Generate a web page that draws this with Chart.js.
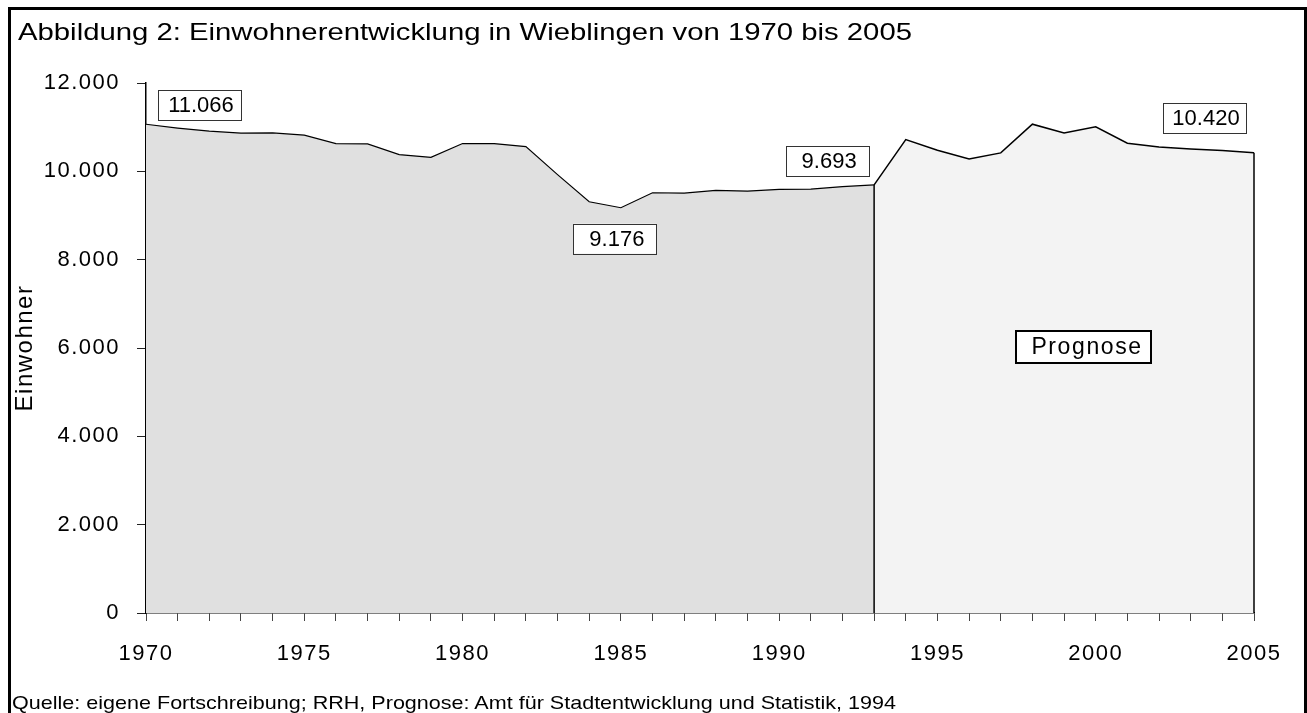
<!DOCTYPE html>
<html>
<head>
<meta charset="utf-8">
<title>Einwohnerentwicklung in Wieblingen</title>
<script src="https://cdn.jsdelivr.net/npm/chart.js@4.4.0/dist/chart.umd.min.js"></script>
<style>
    html, body { margin: 0; padding: 0; background: #fff; }
    #wrap { position: relative; width: 1307px; height: 713px; overflow: hidden; font-family: "Liberation Sans", Arial, sans-serif; color: #000; }
    #frame { position: absolute; left: 8px; top: 7px; width: 1299px; height: 760px; border: 3px solid #000; box-sizing: border-box; }
    #chart { position: absolute; left: 0; top: 0; }
    .txt { position: absolute; white-space: nowrap; line-height: 1; transform-origin: left top; }
    #title { left: 18px; top: 20px; font-size: 24px; }
    #source { left: 12px; top: 693px; font-size: 19px; }
</style>
</head>
<body>
<div id="wrap">
    <div id="frame"></div>
    <canvas id="chart" width="1307" height="713"></canvas>
    <div id="title" class="txt">Abbildung 2: Einwohnerentwicklung in Wieblingen von 1970 bis 2005</div>
    <div id="source" class="txt">Quelle: eigene Fortschreibung; RRH, Prognose: Amt für Stadtentwicklung und Statistik, 1994</div>
</div>
<script>
// Werte
const years = [1970, 1971, 1972, 1973, 1974, 1975, 1976, 1977, 1978, 1979,
               1980, 1981, 1982, 1983, 1984, 1985, 1986, 1987, 1988, 1989,
               1990, 1991, 1992, 1993, 1994, 1995, 1996, 1997, 1998, 1999,
               2000, 2001, 2002, 2003, 2004, 2005];
const einwohner = [11066, 10980, 10910, 10864, 10871, 10818, 10629, 10621, 10379, 10318,
                   10629, 10629, 10560, 9925, 9311, 9176, 9515, 9508, 9568, 9553,
                   9591, 9598, 9652, 9693, 10720, 10477, 10280, 10417, 11068, 10871,
                   11008, 10636, 10553, 10508, 10470, 10420];
const prognoseStart = 1993;
const yTicks = [0, 2000, 4000, 6000, 8000, 10000, 12000];
const xLabelYears = [1970, 1975, 1980, 1985, 1990, 1995, 2000, 2005];
const labelledYears = [1970, 1985, 1993, 2005];
const prognoseText = 'Prognose';

// Layout of the boxes (pixel offsets from the point)
const boxOffsets = [[53, -19], [-6, 31], [-47, -24], [-50, -35]];
const prognoseAt = { x: 1999.6, y: 6030 };

const FONT = '"Liberation Sans", Arial, sans-serif';

function fmt(v) {
    return String(v).replace(/\B(?=(\d{3})+(?!\d))/g, '.');
}

const points = years.map((yr, i) => ({ x: yr, y: einwohner[i] }));
const histData = points.filter(p => p.x <= prognoseStart);
const progData = points.filter(p => p.x >= prognoseStart);

// stretch HTML texts to the width they have in the original
function stretch(id, target) {
    const el = document.getElementById(id);
    const w = el.getBoundingClientRect().width;
    el.style.transform = 'scaleX(' + (target / w) + ')';
}
stretch('title', 894);
stretch('source', 884);

const spacing = {
    id: 'spacing',
    beforeDraw(chart) {
        chart.ctx.letterSpacing = '1.5px';
    }
};

const overlay = {
    id: 'overlay',
    afterDatasetsDraw(chart) {
        const ctx = chart.ctx;
        const x = chart.scales.x, y = chart.scales.y;
        ctx.save();

        // vertical edges of the areas
        ctx.strokeStyle = '#000';
        ctx.lineWidth = 1.5;
        [prognoseStart, years[years.length - 1]].forEach(yr => {
            const i = years.indexOf(yr);
            const px = x.getPixelForValue(yr);
            ctx.beginPath();
            ctx.moveTo(px, y.getPixelForValue(einwohner[i]));
            ctx.lineTo(px, y.getPixelForValue(0));
            ctx.stroke();
        });

        // value boxes
        ctx.letterSpacing = '0px';
        ctx.font = '22px ' + FONT;
        ctx.textAlign = 'center';
        ctx.textBaseline = 'middle';
        labelledYears.forEach((yr, k) => {
            const i = years.indexOf(yr);
            const cx = x.getPixelForValue(yr) + boxOffsets[k][0];
            const cy = y.getPixelForValue(einwohner[i]) + boxOffsets[k][1];
            const w = 83, h = 30;
            ctx.fillStyle = '#fff';
            ctx.fillRect(cx - w / 2, cy - h / 2, w, h);
            ctx.strokeStyle = '#333';
            ctx.lineWidth = 1;
            ctx.strokeRect(Math.round(cx - w / 2) + 0.5, Math.round(cy - h / 2) + 0.5, w, h);
            ctx.fillStyle = '#000';
            ctx.fillText(fmt(einwohner[i]), cx + 2, cy + 1);
        });

        // Prognose box
        const pcx = x.getPixelForValue(prognoseAt.x);
        const pcy = y.getPixelForValue(prognoseAt.y);
        const pw = 135, ph = 32;
        ctx.fillStyle = '#fff';
        ctx.fillRect(pcx - pw / 2, pcy - ph / 2, pw, ph);
        ctx.strokeStyle = '#000';
        ctx.lineWidth = 2;
        ctx.strokeRect(Math.round(pcx - pw / 2), Math.round(pcy - ph / 2), pw, ph);
        ctx.letterSpacing = '1.6px';
        ctx.font = '23px ' + FONT;
        ctx.fillStyle = '#000';
        ctx.fillText(prognoseText, pcx + 4, pcy + 1);

        ctx.restore();
    }
};

new Chart(document.getElementById('chart'), {
    type: 'line',
    data: {
        datasets: [{
            data: histData,
            borderColor: '#000',
            borderWidth: 1.2,
            backgroundColor: '#e0e0e0',
            fill: 'origin',
            pointRadius: 0,
            tension: 0
        }, {
            data: progData,
            borderColor: '#000',
            borderWidth: 1.5,
            backgroundColor: '#f3f3f3',
            fill: 'origin',
            pointRadius: 0,
            tension: 0
        }]
    },
    options: {
        responsive: false,
        animation: false,
        devicePixelRatio: 1,
        layout: { padding: { left: 11, top: 83, right: 53, bottom: 40 } },
        plugins: {
            legend: { display: false },
            tooltip: { enabled: false }
        },
        scales: {
            x: {
                type: 'linear',
                min: years[0],
                max: years[years.length - 1],
                afterFit: s => { s.height = 60; },
                ticks: {
                    stepSize: 1,
                    autoSkip: false,
                    maxRotation: 0,
                    padding: 20,
                    color: '#000',
                    font: { family: FONT, size: 22 },
                    callback: v => xLabelYears.includes(v) ? String(v) : ''
                },
                grid: { drawOnChartArea: false, drawTicks: true, tickLength: 8, color: '#444', lineWidth: 1 },
                border: { color: '#000', width: 1.5 }
            },
            y: {
                min: yTicks[0],
                max: yTicks[yTicks.length - 1],
                afterFit: s => { s.width = 135; },
                afterBuildTicks: s => { s.ticks = yTicks.map(v => ({ value: v })); },
                ticks: {
                    padding: 17,
                    color: '#000',
                    font: { family: FONT, size: 22 },
                    callback: v => fmt(v)
                },
                grid: { drawOnChartArea: false, drawTicks: true, tickLength: 9, color: '#222', lineWidth: 1 },
                border: { color: '#000', width: 1.5 },
                title: {
                    display: true,
                    text: 'Einwohner',
                    color: '#000',
                    padding: 0,
                    font: { family: FONT, size: 24 }
                }
            }
        }
    },
    plugins: [spacing, overlay]
});
</script>
</body>
</html>
